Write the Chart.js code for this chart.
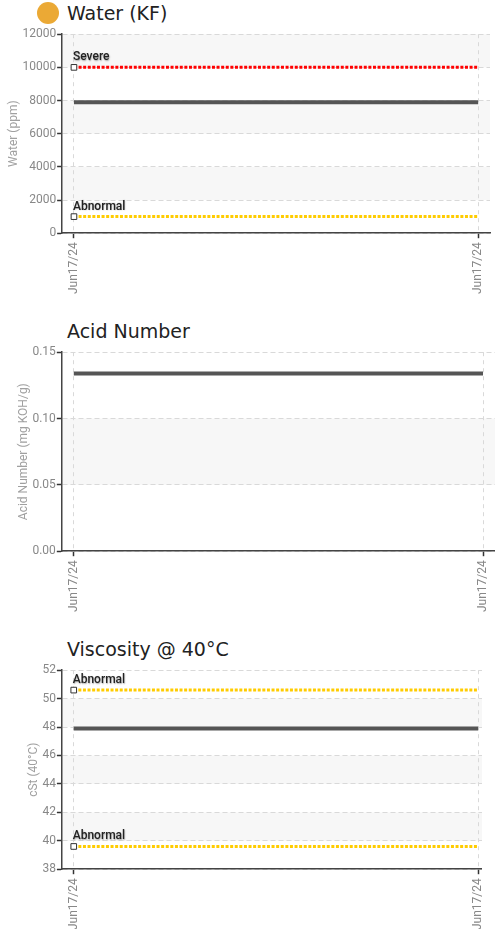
<!DOCTYPE html>
<html><head><meta charset="utf-8">
<script src="https://cdn.jsdelivr.net/npm/chart.js@4"></script>
<style>
html,body{margin:0;padding:0;background:#fff;overflow:hidden;width:495px;height:929px;}
.block{position:relative;width:495px;height:318px;}
.title{position:relative;height:26px;line-height:26px;font-family:"DejaVu Sans",sans-serif;font-size:19px;color:#222;padding-left:67px;white-space:nowrap;}
.dot{position:absolute;left:37px;top:2px;width:22px;height:22px;border-radius:50%;background:#eba935;}
.clip{width:495px;height:292px;overflow:hidden;position:relative;}
.clip.narrow{width:482px;}
.inner{width:495px;height:292px;position:relative;}
</style></head><body>
<div class="block"><div class="title"><span class="dot"></span>Water (KF)</div><div class="clip"><div class="inner"><canvas id="c1"></canvas></div></div></div>
<div class="block"><div class="title">Acid Number</div><div class="clip"><div class="inner"><canvas id="c2"></canvas></div></div></div>
<div class="block"><div class="title">Viscosity @ 40°C</div><div class="clip narrow"><div class="inner"><canvas id="c3"></canvas></div></div></div>
<script>
const categories = ['Jun17/24', 'Jun17/24'];

const waterResult = [7900, 7900];
const waterSevere = [10000, 10000];
const waterAbnormal = [1000, 1000];
const waterTicks = [0, 2000, 4000, 6000, 8000, 10000, 12000];

const acidResult = [0.134, 0.134];
const acidTicks = [0, 0.05, 0.10, 0.15];

const viscResult = [47.9, 47.9];
const viscAbnormalHigh = [50.6, 50.6];
const viscAbnormalLow = [39.6, 39.6];
const viscTicks = [38, 40, 42, 44, 46, 48, 50, 52];

const bandsPlugin = {
  id: 'bands',
  beforeDraw(chart) {
    const {ctx, chartArea: a, scales: {y}} = chart;
    const t = y.ticks;
    ctx.save();
    ctx.fillStyle = '#f7f7f7';
    for (let i = 1; i < t.length - 1; i += 2) {
      const y1 = y.getPixelForValue(t[i].value);
      const y2 = y.getPixelForValue(t[i + 1].value);
      ctx.fillRect(a.left, y2, a.right - a.left, y1 - y2);
    }
    ctx.restore();
  }
};

const labelPlugin = {
  id: 'thresholdLabels',
  afterDatasetsDraw(chart) {
    const ctx = chart.ctx;
    chart.data.datasets.forEach((ds, i) => {
      if (!ds.thresholdLabel) return;
      const p = chart.getDatasetMeta(i).data[0];
      ctx.save();
      ctx.font = '500 12px Roboto';
      ctx.fillStyle = '#222';
      ctx.textBaseline = 'bottom';
      ctx.textAlign = 'left';
      ctx.shadowColor = 'rgba(0,0,0,0.35)';
      ctx.shadowBlur = 1.5;
      ctx.shadowOffsetX = 0.5;
      ctx.shadowOffsetY = 0.5;
      ctx.fillText(ds.thresholdLabel, p.x - 1, p.y - 4);
      ctx.restore();
    });
  }
};

function pts(arr) { return arr.map((v, i) => ({x: i, y: v})); }

function resultDs(arr) {
  return {data: pts(arr), borderColor: '#555', borderWidth: 4, pointRadius: 0, pointHoverRadius: 0};
}
function limitDs(arr, color, label) {
  return {
    data: pts(arr), borderColor: color, borderWidth: 3, borderDash: [3, 1.6],
    thresholdLabel: label,
    pointStyle: 'rect',
    pointRadius: c => c.dataIndex === 0 ? 4 : 0,
    pointBackgroundColor: '#fff', pointBorderColor: '#333', pointBorderWidth: 1
  };
}

const xPad = 0.0293;

function makeChart(id, datasets, ticks, decimals, yTitle, leftPad) {
  new Chart(document.getElementById(id), {
    type: 'line',
    data: {datasets},
    plugins: [bandsPlugin, labelPlugin],
    options: {
      responsive: true, maintainAspectRatio: false, animation: false,
      layout: {padding: {left: leftPad, right: 0, top: 0, bottom: 20}},
      plugins: {legend: {display: false}, tooltip: {enabled: false}},
      scales: {
        x: {
          type: 'linear', min: -xPad, max: 1 + xPad,
          afterBuildTicks: s => { s.ticks = categories.map((c, i) => ({value: i})); },
          afterFit: s => { s.paddingRight = 0; s.paddingLeft = 0; },
          ticks: {
            autoSkip: false, minRotation: 90, maxRotation: 90, padding: 4,
            color: '#888', font: {family: 'Roboto', size: 12},
            callback: (v, i) => categories[i]
          },
          grid: {color: '#d9d9d9', tickColor: '#333', tickLength: 5, tickWidth: 1.5},
          border: {color: '#444', width: 1.5, dash: [4, 4]}
        },
        y: {
          min: ticks[0], max: ticks[ticks.length - 1],
          afterBuildTicks: s => { s.ticks = ticks.map(v => ({value: v})); },
          ticks: {
            padding: 1, color: '#888', font: {family: 'Roboto', size: 12},
            callback: v => v.toFixed(decimals)
          },
          title: {display: true, text: yTitle, color: '#a0a0a0', font: {family: 'Roboto', size: 12}, padding: {top: 4, bottom: 0}},
          grid: {color: '#d9d9d9', tickColor: '#333', tickLength: 5, tickWidth: 1.5},
          border: {color: '#444', width: 1.5, dash: [5, 3]}
        }
      }
    }
  });
}

makeChart('c1', [
  resultDs(waterResult),
  limitDs(waterSevere, '#ff0000', 'Severe'),
  limitDs(waterAbnormal, '#ffcc00', 'Abnormal')
], waterTicks, 0, 'Water (ppm)', 3);

makeChart('c2', [
  resultDs(acidResult)
], acidTicks, 2, 'Acid Number (mg KOH/g)', 13);

makeChart('c3', [
  resultDs(viscResult),
  limitDs(viscAbnormalHigh, '#ffcc00', 'Abnormal'),
  limitDs(viscAbnormalLow, '#ffcc00', 'Abnormal')
], viscTicks, 0, 'cSt (40°C)', 23);
</script>
</body></html>
